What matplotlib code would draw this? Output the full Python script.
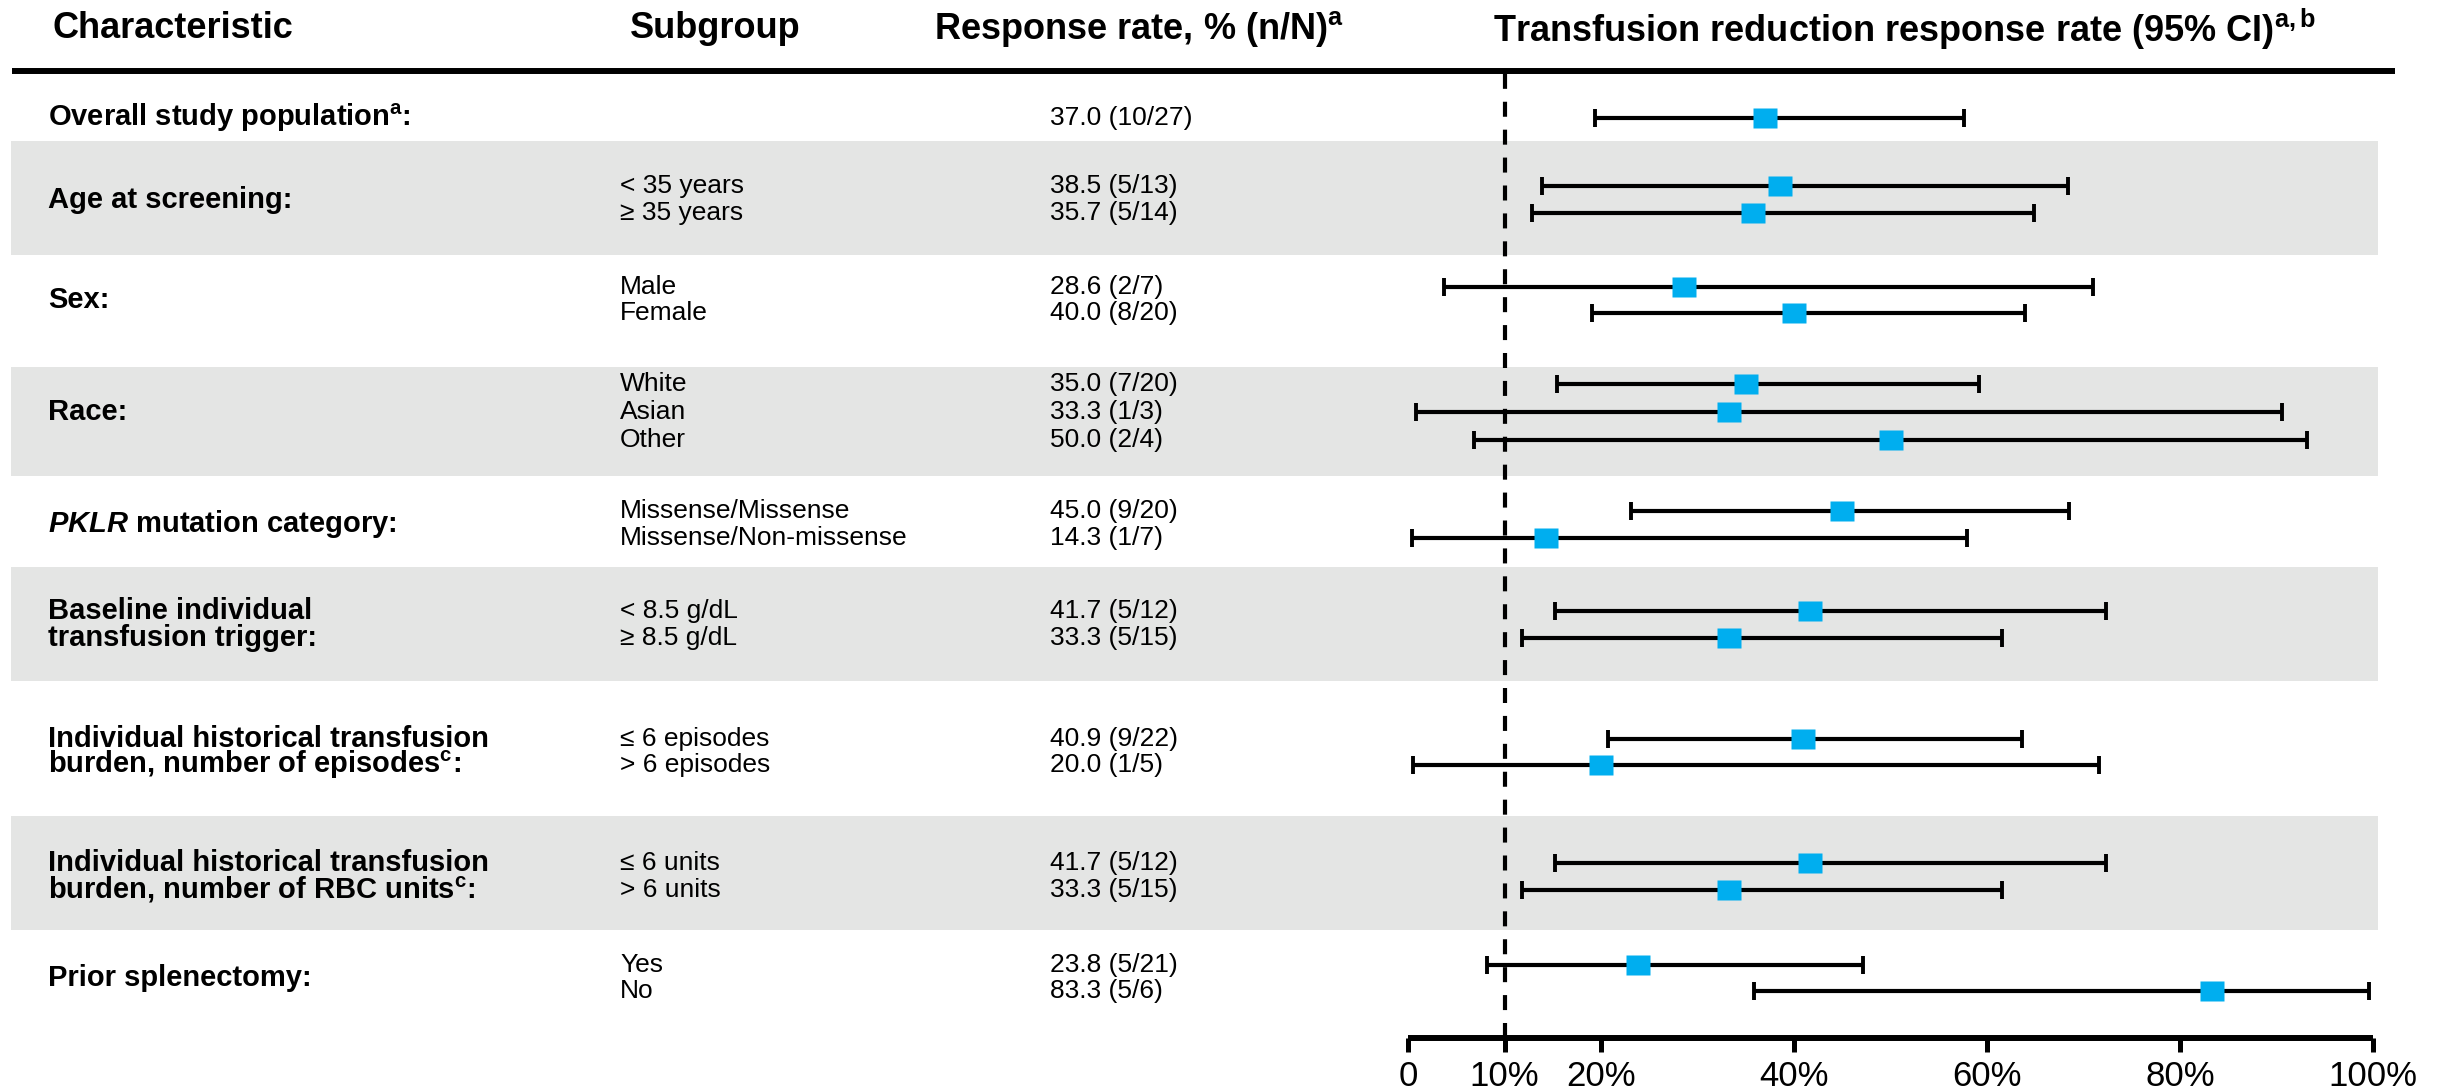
import matplotlib
matplotlib.use("Agg")
import matplotlib.pyplot as plt
from matplotlib.patches import Rectangle
from matplotlib.path import Path

plt.rcParams['font.family'] = ['Liberation Sans', 'DejaVu Sans']
plt.rcParams['mathtext.fontset'] = 'custom'
plt.rcParams['mathtext.rm'] = 'Liberation Sans'
plt.rcParams['mathtext.bf'] = 'Liberation Sans:bold'
plt.rcParams['mathtext.it'] = 'Liberation Sans:italic:bold'

# === data ===
characteristics = [
    [r"Overall study population$^{\mathbf{a}}$:"],
    ["Age at screening:"],
    ["Sex:"],
    ["Race:"],
    [r"$\mathit{PKLR}$ mutation category:"],
    ["Baseline individual", "transfusion trigger:"],
    ["Individual historical transfusion", r"burden, number of episodes$^{\mathbf{c}}$:"],
    ["Individual historical transfusion", r"burden, number of RBC units$^{\mathbf{c}}$:"],
    ["Prior splenectomy:"],
]
subgroups = [
    [""],
    ["< 35 years", "≥ 35 years"],
    ["Male", "Female"],
    ["White", "Asian", "Other"],
    ["Missense/Missense", "Missense/Non-missense"],
    ["< 8.5 g/dL", "≥ 8.5 g/dL"],
    ["≤ 6 episodes", "> 6 episodes"],
    ["≤ 6 units", "> 6 units"],
    ["Yes", "No"],
]
resp_rate = [37.0, 38.5, 35.7, 28.6, 40.0, 35.0, 33.3, 50.0, 45.0, 14.3,
             41.7, 33.3, 40.9, 20.0, 41.7, 33.3, 23.8, 83.3]
resp_n = [10, 5, 5, 2, 8, 7, 1, 2, 9, 1, 5, 5, 9, 1, 5, 5, 5, 5]
resp_N = [27, 13, 14, 7, 20, 20, 3, 4, 20, 7, 12, 15, 22, 5, 12, 15, 21, 6]
ci_low = [19.4, 13.9, 12.8, 3.7, 19.1, 15.4, 0.8, 6.8, 23.1, 0.4,
          15.2, 11.8, 20.7, 0.5, 15.2, 11.8, 8.2, 35.9]
ci_high = [57.6, 68.4, 64.9, 71.0, 63.9, 59.2, 90.6, 93.2, 68.5, 57.9,
           72.3, 61.6, 63.6, 71.6, 72.3, 61.6, 47.2, 99.6]
tick_vals = [0, 10, 20, 40, 60, 80, 100]
tick_labels = ["0", "10%", "20%", "40%", "60%", "80%", "100%"]
threshold = 10

# === layout (pixel units) ===
W, H = 2440, 1090
band_edges = [71, 141, 255, 367, 476, 567, 681, 816, 930, 1039]
row_y = [118, 186, 213, 287, 313, 384, 412, 440, 511, 538, 611, 638,
         739, 765, 863, 890, 965, 991]
x_char, x_sub, x_resp = 48, 620, 1050
ax_left, ax_right, ax_bottom, ax_top = 1408, 2373, 1038, 71
band_color = "#e4e5e4"
marker_color = "#00aeef"

fig = plt.figure(figsize=(W / 100, H / 100), dpi=100)
bg = fig.add_axes([0, 0, 1, 1])
bg.set_xlim(0, W)
bg.set_ylim(H, 0)
bg.axis("off")

# alternating grey bands
for g in range(len(characteristics)):
    if g % 2 == 1:
        bg.add_patch(Rectangle((11, band_edges[g]), 2378 - 11,
                               band_edges[g + 1] - band_edges[g],
                               color=band_color, lw=0, zorder=0))

# header
bg.plot([12, 2395], [71, 71], color="black", lw=4.3, solid_capstyle="butt")
hdr = dict(fontsize=26, fontweight="bold", va="center")
bg.text(53, 29, "Characteristic", **hdr)
bg.text(715, 29, "Subgroup", ha="center", **hdr)
bg.text(934, 29, r"Response rate, % (n/N)$^{\mathbf{a}}$", **hdr)
bg.text(1905, 29, r"Transfusion reduction response rate (95% CI)$^{\mathbf{a,b}}$",
        ha="center", **hdr)

# table text
i = 0
for g, subs in enumerate(subgroups):
    ys = row_y[i:i + len(subs)]
    labels = characteristics[g]
    if len(labels) == 1:
        bg.text(x_char, sum(ys) / len(ys), labels[0], fontsize=21,
                fontweight="bold", va="center")
    else:
        for lab, y in zip(labels, ys):
            bg.text(x_char, y, lab, fontsize=21, fontweight="bold", va="center")
    for s, y in zip(subs, ys):
        bg.text(x_sub, y, s, fontsize=19, va="center")
    for k, y in enumerate(ys):
        j = i + k
        bg.text(x_resp, y, f"{resp_rate[j]:.1f} ({resp_n[j]}/{resp_N[j]})",
                fontsize=19, va="center")
    i += len(subs)

# forest plot
fa = fig.add_axes([ax_left / W, (H - ax_bottom) / H,
                   (ax_right - ax_left) / W, (ax_bottom - ax_top) / H])
fa.patch.set_visible(False)
fa.set_xlim(0, 100)
fa.set_ylim(ax_bottom, ax_top)
for sp in ["top", "left", "right"]:
    fa.spines[sp].set_visible(False)
fa.spines["bottom"].set_linewidth(4.3)
fa.spines["bottom"].set_capstyle("butt")
fa.set_yticks([])
fa.set_xticks(tick_vals)
fa.set_xticklabels(tick_labels)
fa.tick_params(axis="x", length=10, width=3.6, labelsize=25, pad=6)

fa.axvline(threshold, color="black", lw=3.0, ls=(0, (3.6, 3.1)), zorder=1)

xerr = [[r - lo for r, lo in zip(resp_rate, ci_low)],
        [hi - r for r, hi in zip(resp_rate, ci_high)]]
fa.errorbar(resp_rate, row_y, xerr=xerr, fmt="none", ecolor="black",
            elinewidth=3.0, capsize=6.5, capthick=2.8, zorder=2, clip_on=False)
box = Path([(-24, -19), (24, -19), (24, 19), (-24, 19), (-24, -19)],
           [Path.MOVETO, Path.LINETO, Path.LINETO, Path.LINETO, Path.CLOSEPOLY])
fa.plot(resp_rate, row_y, ls="none", marker=box, ms=17.5, color=marker_color,
        mec="none", zorder=3, clip_on=False)

fig.savefig("out.png", dpi=100)
